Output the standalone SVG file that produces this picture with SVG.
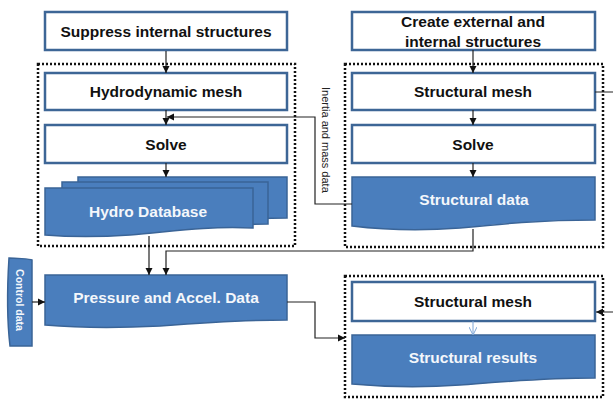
<svg xmlns="http://www.w3.org/2000/svg" width="613" height="401" viewBox="0 0 613 401">
<style>
.wb{fill:#ffffff;stroke:#3d6696;stroke-width:2.5}
.bb{fill:#4a7ebd;stroke:#3a6497;stroke-width:1.5}
.dot{fill:none;stroke:#111;stroke-width:2.5;stroke-dasharray:2 2}
.t{font-family:"Liberation Sans",Arial,sans-serif;font-weight:bold;font-size:15.5px;text-anchor:middle;fill:#111}
.tw{font-family:"Liberation Sans",Arial,sans-serif;font-weight:bold;font-size:15.5px;text-anchor:middle;fill:#f4f7fb}
.c{fill:none;stroke:#222;stroke-width:1.2}
</style>
<defs>
<marker id="ah" markerWidth="8" markerHeight="8" refX="7" refY="4" orient="auto" markerUnits="userSpaceOnUse">
<path d="M0,0.5 L7,4 L0,7.5 Z" fill="#111"/>
</marker>
<marker id="av" markerWidth="10" markerHeight="8" refX="8" refY="4" orient="auto" markerUnits="userSpaceOnUse">
<path d="M0,0 L8,4 L0,8" fill="none" stroke="#7fa6d6" stroke-width="1"/>
</marker>
</defs>
<rect width="613" height="401" fill="#ffffff"/>

<g id="containers">
<rect class="dot" x="38" y="64" width="257" height="182"/>
<rect class="dot" x="345" y="64" width="258" height="183"/>
<rect class="dot" x="345" y="276" width="258" height="121"/>
</g>

<g id="suppress">
<rect class="wb" x="45" y="12" width="242" height="38"/>
<text class="t" x="166" y="37">Suppress internal structures</text>
</g>
<g id="hydromesh">
<rect class="wb" x="45" y="73" width="242" height="37"/>
<text class="t" x="166" y="97">Hydrodynamic mesh</text>
</g>
<g id="solve1">
<rect class="wb" x="45" y="125" width="242" height="38"/>
<text class="t" x="166" y="150">Solve</text>
</g>
<g id="hydrodb">
<path class="bb" d="M78,177 H287 V218 C250,218 220,222 190,224 C150,226 110,225 78,222 Z"/>
<path class="bb" d="M62,182 H268 V224 C230,224 200,228 170,230 C130,232 95,231 62,228 Z"/>
<path class="bb" d="M45,188 H253 V228 C200,226 170,232 130,235 C100,237 70,237 45,235 Z"/>
<text class="tw" x="148" y="217">Hydro Database</text>
</g>

<g id="create">
<rect class="wb" x="352" y="12" width="243" height="38"/>
<text class="t" x="473" y="27">Create external and</text>
<text class="t" x="473" y="47">internal structures</text>
</g>
<g id="structmesh1">
<rect class="wb" x="352" y="73" width="243" height="37"/>
<text class="t" x="473" y="97">Structural mesh</text>
</g>
<g id="solve2">
<rect class="wb" x="352" y="125" width="243" height="38"/>
<text class="t" x="473" y="150">Solve</text>
</g>
<g id="structdata">
<path class="bb" d="M352,177 H595 V220 C540,220 500,224 460,228 C420,231 385,230 352,226 Z"/>
<text class="tw" x="474" y="205">Structural data</text>
</g>

<g id="control">
<path class="bb" d="M9,258 C14,258 30,259 32,260 V346 H10 C7,320 7,290 9,258 Z"/>
<text class="tw" transform="translate(16,300) rotate(90)" style="font-size:10.5px">Control data</text>
</g>
<g id="pressure">
<path class="bb" d="M45,275 H287 V320 C240,320 200,323 160,326 C120,328 80,328 45,325 Z"/>
<text class="tw" x="166" y="303">Pressure and Accel. Data</text>
</g>

<g id="structmesh2">
<rect class="wb" x="352" y="282" width="243" height="39"/>
<text class="t" x="473" y="307">Structural mesh</text>
</g>
<g id="structresults">
<path class="bb" d="M352,335 H595 V378 C540,378 500,382 460,385 C420,388 385,387 352,384 Z"/>
<text class="tw" x="473" y="363">Structural results</text>
</g>

<g id="connectors">
<path class="c" d="M166,51 V73" marker-end="url(#ah)"/>
<path class="c" d="M166,110 V125" marker-end="url(#ah)"/>
<path class="c" d="M166,163 V177" marker-end="url(#ah)"/>
<path class="c" d="M473,50 V73" marker-end="url(#ah)"/>
<path class="c" d="M473,110 V125" marker-end="url(#ah)"/>
<path class="c" d="M473,163 V177" marker-end="url(#ah)"/>
<path class="c" d="M352,204 H315 V117 H167" marker-end="url(#ah)"/>
<path class="c" d="M149,236 V275" marker-end="url(#ah)"/>
<path class="c" d="M473,229 V251 H166 V275" marker-end="url(#ah)"/>
<path class="c" d="M32,302 H45" marker-end="url(#ah)"/>
<path class="c" d="M287,302 H315 V338 H345" marker-end="url(#ah)"/>
<path class="c" d="M595,92 H620 V312 H596" marker-end="url(#ah)"/>
<path d="M473,321 V335" fill="none" stroke="#7fa6d6" stroke-width="1" marker-end="url(#av)"/>
<text transform="translate(322,87) rotate(90)" style="font-family:'Liberation Sans',Arial,sans-serif;font-size:11px;fill:#222">Inertia and mass data</text>
</g>
</svg>
